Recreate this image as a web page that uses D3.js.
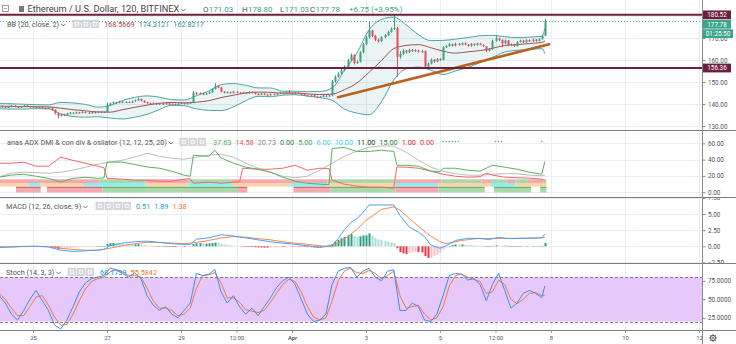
<!DOCTYPE html>
<html>
<head>
<meta charset="utf-8">
<title>Ethereum / U.S. Dollar, 120, BITFINEX</title>
<script src="https://cdn.jsdelivr.net/npm/d3@7/dist/d3.min.js"></script>
<style>
  html, body { margin: 0; padding: 0; background: #ffffff; }
  svg { display: block; font-family: Roboto, "Liberation Sans", Arial, sans-serif; }
</style>
</head>
<body>
<svg id="chart" width="736" height="344"></svg>
<script>
// ---------------- data: ETH/USD, 2-hour bars, Bitfinex ----------------
const candleStart = Date.UTC(2019, 2, 24, 2);   // open time of the first bar
const barHours = 2;
const firstOpen = 138.3;                          // later opens = previous close

const closes = [
  138.6,138.9,138.4,138.7,139.2,138.8,138.5,138.9,139.3,139.0,
  138.6,138.8,138.4,138.7,138.2,137.9,138.3,137.4,135.8,134.6,
  135.2,134.9,135.6,136.0,135.7,136.2,135.9,136.4,136.1,135.8,
  136.3,136.0,136.5,136.2,136.4,139.6,140.3,140.8,140.5,141.0,
  140.6,140.9,140.7,141.2,141.6,142.3,141.5,140.8,140.4,140.1,
  140.4,139.8,140.2,139.9,140.3,139.7,140.0,139.6,140.1,140.4,
  140.0,140.3,140.6,145.2,144.6,145.0,144.3,144.8,145.3,146.8,
  148.1,147.5,145.6,145.2,145.4,145.0,145.6,145.2,144.8,145.3,
  144.9,145.5,145.1,144.6,144.2,144.7,144.3,144.0,144.5,144.2,
  144.8,145.2,144.7,145.4,145.0,144.6,145.1,144.8,144.3,144.0,
  143.6,143.9,143.3,143.0,143.4,143.8,143.5,143.9,150.2,152.4,
  153.8,155.3,157.0,159.8,162.3,158.7,159.2,163.5,167.2,170.3,
  173.4,171.0,169.2,168.5,170.4,171.3,172.8,174.2,174.6,161.4,
  162.8,164.2,163.5,164.6,164.0,164.4,163.8,164.1,157.0,158.4,
  160.2,159.3,160.5,160.0,165.8,166.4,167.2,166.5,167.4,166.9,
  167.6,167.0,166.4,167.3,166.8,167.5,166.9,166.3,164.2,164.9,
  168.7,169.8,169.1,167.5,168.9,166.6,167.1,166.3,168.2,168.8,
  168.1,169.0,168.5,169.3,168.7,169.5,171.03,177.78
];
const highs = [
  139.0,139.3,139.1,139.0,139.6,139.4,139.0,139.2,139.7,139.5,
  139.2,139.1,139.0,139.0,138.9,138.4,138.6,138.5,137.6,136.0,
  135.6,135.5,135.9,136.4,136.2,136.5,136.4,136.7,136.6,136.3,
  136.6,136.5,136.8,136.7,136.8,140.5,140.7,141.2,141.0,141.4,
  141.2,141.2,141.1,141.5,142.0,142.9,142.5,141.7,141.0,140.6,
  140.7,140.6,140.5,140.4,140.6,140.5,140.3,140.2,140.4,140.7,
  140.6,140.6,141.0,146.0,145.5,145.4,145.2,145.1,145.7,147.2,
  149.5,148.4,147.7,145.9,145.8,145.6,145.9,145.8,145.4,145.6,
  145.5,145.8,145.7,145.3,144.8,145.0,144.9,144.5,144.8,144.7,
  145.1,145.5,145.4,145.8,146.4,145.2,145.4,145.3,145.0,144.5,
  144.2,144.2,144.1,143.5,143.7,144.1,144.0,144.2,151.0,153.0,
  154.4,156.0,157.6,160.5,163.0,162.6,159.8,164.0,167.8,171.0,
  177.4,173.8,171.4,169.8,170.9,171.8,173.3,174.8,180.52,175.0,
  164.0,164.9,164.6,165.1,165.0,164.9,164.7,164.5,164.3,158.9,
  160.7,160.5,160.9,160.8,166.4,166.9,167.7,167.5,167.9,167.7,
  168.0,167.9,167.2,167.7,167.6,167.9,167.8,167.1,165.8,165.3,
  169.3,171.4,170.2,169.4,169.3,169.1,167.5,167.3,168.6,169.2,
  169.0,169.4,169.3,169.7,169.5,169.9,171.4,178.80
];
const lows = [
  138.1,138.4,138.1,138.2,138.5,138.5,138.1,138.3,138.7,138.7,
  138.3,138.4,138.0,138.2,137.9,137.5,137.7,137.0,135.3,133.5,
  134.3,134.5,134.7,135.3,135.4,135.5,135.6,135.7,135.8,135.5,
  135.6,135.7,135.8,135.9,136.0,136.2,139.3,140.0,140.1,140.3,
  140.3,140.4,140.4,140.5,141.0,141.4,141.2,140.5,140.1,139.8,
  139.9,139.5,139.6,139.6,139.7,139.4,139.5,139.3,139.4,139.9,
  139.7,139.8,140.1,140.4,144.2,144.3,144.0,144.1,144.6,145.1,
  146.6,147.1,145.3,144.8,144.9,144.7,144.8,144.9,144.5,144.6,
  144.6,144.7,144.8,144.3,143.9,144.0,144.0,143.7,143.8,143.9,
  144.0,144.6,144.4,144.5,144.7,144.3,144.4,144.5,144.0,143.7,
  143.3,143.4,143.0,142.6,142.8,143.2,143.2,143.3,143.7,149.8,
  152.0,153.4,154.9,156.6,159.4,158.0,158.2,158.9,163.0,166.8,
  169.8,170.4,168.6,167.9,168.2,169.9,170.9,172.4,173.6,152.4,
  160.6,162.2,162.9,163.1,163.6,163.7,163.4,163.3,156.2,156.5,
  158.0,158.8,159.0,159.6,159.8,165.4,166.0,166.1,166.2,166.5,
  166.6,166.7,166.0,166.1,166.4,166.5,166.6,165.9,163.6,163.9,
  164.6,168.3,168.6,165.8,167.2,166.2,166.3,165.9,166.1,167.9,
  167.7,167.8,168.2,168.2,168.3,168.4,169.3,171.03
];

// Bollinger Bands (20, close, 2), read at these bar indices
const bbIdx = [0,4,8,12,16,20,24,28,32,36,40,44,48,52,56,60,64,68,72,76,80,84,88,92,96,100,
  104,108,112,116,120,124,128,132,136,140,144,148,152,156,160,164,168,172,176,177];
const bbUpper = [140.2,140.1,139.9,139.7,139.6,140.7,140.5,139.8,138.6,139.3,141.6,143.0,143.7,143.1,
  142.0,141.8,143.8,145.9,148.8,149.3,148.5,147.3,147.3,145.8,145.8,145.6,145.7,147.3,155.3,163.1,
  173.7,178.4,179.5,176.0,171.5,168.8,168.9,169.5,170.2,171.0,171.2,170.6,170.2,170.4,170.8,174.3121];
const bbBasis = [139.0,138.9,138.8,138.8,138.7,138.1,137.4,136.9,136.4,136.3,137.4,138.5,139.5,140.3,
  140.7,140.5,140.8,141.5,142.9,144.0,145.0,145.4,145.3,144.9,145.0,144.6,144.3,144.5,146.5,149.5,
  154.4,159.7,165.2,166.6,167.0,165.6,164.0,163.1,163.7,164.3,165.3,166.6,167.0,167.5,168.0,168.5669];
const bbLower = [137.8,137.7,137.7,137.9,137.8,135.5,134.3,134.0,134.2,133.6,133.2,134.0,135.3,137.5,
  139.4,139.2,137.8,137.1,137.0,138.7,141.5,143.5,143.3,144.0,144.2,143.6,142.9,141.7,137.7,135.9,
  135.1,141.0,150.9,156.0,156.8,155.4,153.4,155.0,156.6,158.8,161.2,163.6,164.4,164.7,165.2,162.8217];

// horizontal levels and trend line drawn on the price pane
const levels = [180.52, 156.36];
const lastClose = 177.78;
const barCountdown = "01:25:50";
const trendLine = [{t: "2019-04-02T05:50:00Z", p: 143.05}, {t: "2019-04-07T22:50:00Z", p: 167.14}];

// ADX / DMI pane: [bar index, value]
const diPlus = [[0,18.4],[4,21],[8,22],[12,19.6],[16,17],[20,12.6],[24,17],[28,18.4],[32,17],[34,17.5],
  [35,37],[40,36.8],[44,34],[48,31],[52,29.4],[56,25.8],[60,20.9],[62,19.5],[63,45.4],[68,44],[70,51.5],
  [72,42],[76,35.6],[80,30.7],[84,28.2],[88,24.5],[92,18.4],[96,13.5],[100,11],[104,9.8],[107,9.5],
  [108,53.6],[112,55],[116,50],[120,50],[124,51.5],[128,50],[129,33],[132,33],[136,31.9],[140,25.8],
  [143,25],[144,29.4],[148,29.4],[152,27],[156,25.8],[160,33],[164,30.7],[168,28.2],[172,24.5],
  [176,22],[177,37.63]];
const diMinus = [[0,35.6],[4,35.6],[8,36.8],[12,31.9],[16,31.9],[20,43],[24,39],[28,35.6],[32,31.9],
  [34,30],[35,17],[40,16],[44,14.7],[48,14.7],[52,13.5],[56,13.5],[60,16],[62,16.5],[63,11],[68,12.3],
  [72,11],[76,12.3],[78,12.5],[79,29.4],[84,28.2],[88,28.2],[92,29.4],[96,33],[100,27],[104,29.4],
  [107,29],[108,14.7],[112,9.8],[116,7.4],[120,6.1],[124,6.1],[128,4.9],[129,31],[132,30.7],[136,29.4],
  [140,25.8],[144,22],[148,19.6],[152,18.4],[156,19],[158,23.3],[160,21],[164,18.4],[168,17.8],
  [172,17.2],[176,16],[177,14.58]];
const adxLine = [[0,18.8],[4,23.3],[8,24.5],[12,24],[16,23.3],[20,24.5],[24,27],[28,30.7],[32,34.4],
  [36,36.8],[40,39.3],[44,43],[48,47.9],[52,44.2],[56,41.7],[60,40.5],[64,43],[68,45.4],[72,46.6],
  [76,43],[80,35.6],[84,29.4],[88,24.5],[92,19.6],[96,17.8],[100,19.6],[104,27],[108,35.6],[112,44.2],
  [116,50.3],[120,55.2],[124,57],[128,56.4],[132,49],[136,39.3],[140,30.7],[144,25.8],[148,22.7],
  [152,20.9],[156,20.9],[160,22],[164,22.7],[168,22.7],[172,20.9],[176,20.2],[177,20.73]];
// state strips of the divergence oscillator: [first bar, state]
const stripTrend = [[0,"dn"],[33,"up"],[48,"dn"],[62,"up"],[76,"dn"],[107,"up"],[129,"dn"],[144,"up"],
  [157,"dn"],[160,"up"],[165,"dn"],[168,"up"],[172,"dn"],[177,"up"]];
const stripMomentum = [[0,"or"],[10,"cy"],[14,"or"],[28,"cy"],[48,"or"],[62,"cy"],[76,"or"],[95,"cy"],
  [107,"or"],[129,"cy"],[143,"or"],[160,"cy"],[168,"or"]];
const stripDirection = [[0,null],[6,"dn"],[14,null],[16,"dn"],[34,"up"],[78,"dn"],[81,null],[96,"dn"],
  [108,"up"],[129,"dn"],[143,"up"],[158,null],[161,"up"],[173,null],[176,"up"]];
const signalDots = [144,145,146,147,148,149,161,162,163,176];

// MACD (12, 26, close, 9): [bar index, value]
const macdLine = [[0,-0.2],[4,-0.1],[8,0],[12,0],[16,-0.1],[20,-0.6],[24,-0.8],[28,-0.7],[32,-0.6],
  [34,-0.5],[36,0.1],[40,0.5],[44,0.7],[48,0.8],[52,0.6],[56,0.4],[60,0.3],[62,0.3],[64,1.1],[68,1.3],
  [72,1.8],[76,1.6],[80,1.3],[84,1.0],[88,0.7],[92,0.5],[96,0.3],[100,0.1],[104,-0.2],[108,0.2],
  [110,1.2],[112,2.6],[114,3.6],[116,4.3],[118,5.2],[120,6.4],[124,6.4],[128,6.4],[130,4.8],[133,3.0],
  [136,2.2],[138,1.5],[140,0.2],[143,-0.3],[145,0.1],[148,0.9],[152,1.25],[156,1.2],[159,1.05],
  [162,1.4],[165,1.2],[168,1.2],[172,1.25],[176,1.3],[177,1.89]];
const macdSignal = [[0,-0.1],[4,-0.1],[8,-0.05],[12,0],[16,-0.05],[20,-0.3],[24,-0.5],[28,-0.6],
  [32,-0.6],[36,-0.3],[40,0.1],[44,0.4],[48,0.6],[52,0.6],[56,0.5],[60,0.4],[64,0.6],[68,0.9],[72,1.3],
  [76,1.5],[80,1.4],[84,1.2],[88,1.0],[92,0.7],[96,0.5],[100,0.3],[104,0.1],[108,-0.1],[112,1.1],
  [116,2.6],[119,4.0],[124,5.7],[128,6.1],[130,5.6],[134,3.9],[139,1.9],[143,0.7],[145,0.4],[150,0.9],
  [155,1.2],[160,1.2],[168,1.25],[175,1.3],[177,1.38]];
const macdHist = [
  0.05,-0.03,-0.05,0.02,0.06,0.04,0.00,-0.02,0.03,0.05,0.02,-0.03,-0.05,-0.02,-0.06,-0.08,
  -0.05,-0.12,-0.28,-0.42,-0.38,-0.36,-0.3,-0.25,-0.22,-0.18,-0.12,-0.1,-0.08,-0.06,-0.04,-0.03,0.0,0.02,
  0.02,0.35,0.48,0.52,0.5,0.46,0.42,0.38,0.33,0.3,0.3,0.34,0.26,0.18,
  0.12,0.06,0.02,-0.03,-0.06,-0.08,-0.1,-0.12,-0.12,-0.13,-0.12,-0.1,-0.1,-0.08,-0.06,
  0.35,0.45,0.48,0.42,0.42,0.44,0.5,0.58,0.55,0.4,0.3,
  0.22,0.15,0.1,0.05,0.0,-0.04,-0.08,-0.1,-0.12,-0.15,-0.18,-0.18,-0.2,-0.21,-0.2,-0.18,-0.16,-0.12,
  -0.12,-0.08,-0.06,-0.06,-0.05,-0.06,
  -0.08,-0.1,-0.14,-0.15,-0.18,-0.2,-0.2,-0.17,-0.15,-0.12,
  0.35,0.7,1.0,1.25,1.45,1.7,1.9,1.6,1.45,1.55,1.7,1.7,2.0,1.6,1.3,1.05,0.95,0.85,0.75,0.62,0.5,
  -0.3,-0.9,-1.1,-1.2,-1.0,-0.9,-0.85,-0.9,-0.95,-1.5,-1.8,-1.7,-1.5,-1.3,-1.0,-0.5,-0.2,0.05,
  0.2,0.3,0.28,0.3,0.26,0.2,0.18,0.12,0.1,0.05,0.02,-0.05,-0.08,0.06,
  0.15,0.12,0.05,0.1,-0.05,-0.06,-0.08,0.02,0.05,0.02,0.04,0.0,0.04,0.02,0.03,0.08,
  0.51
];

// Stochastic (14, 3, 3): [bar index, value]
const stochK = [[0,55],[2,45],[4,30],[6,22],[8,35],[10,50],[12,62],[14,48],[16,35],[18,15],
  [20,10],[22,22],[24,40],[26,60],[28,72],[30,78],[32,80],[34,82],[36,92],[38,90],
  [40,85],[42,80],[44,86],[46,78],[48,55],[50,42],[52,35],[54,40],[56,30],[58,25],
  [60,35],[62,45],[64,85],[66,82],[68,84],[70,90],[72,60],[74,45],[76,55],[78,40],
  [80,30],[82,38],[84,28],[86,40],[88,52],[90,66],[92,75],[94,80],[96,70],[98,50],
  [100,30],[102,20],[104,22],[106,30],[108,70],[110,88],[112,92],[114,93],[116,80],[118,88],
  [120,92],[122,80],[124,75],[126,88],[128,90],[130,35],[132,35],[134,45],[136,40],[138,22],
  [140,20],[142,30],[144,55],[146,82],[148,85],[150,84],[152,76],[154,78],[156,70],[158,48],
  [160,70],[162,85],[164,62],[166,38],[168,45],[170,58],[172,62],[174,58],[176,52],[177,68.1739]];
const stochD = [[0,58],[2,50],[4,38],[6,28],[8,28],[10,40],[12,53],[14,55],[16,42],[18,26],
  [20,15],[22,16],[24,30],[26,48],[28,64],[30,74],[32,78],[34,80],[36,87],[38,90],
  [40,87],[42,82],[44,82],[46,80],[48,65],[50,48],[52,38],[54,38],[56,35],[58,28],
  [60,30],[62,38],[64,65],[66,82],[68,83],[70,86],[72,72],[74,52],[76,52],[78,46],
  [80,36],[82,34],[84,32],[86,35],[88,46],[90,58],[92,70],[94,77],[96,74],[98,60],
  [100,40],[102,26],[104,22],[106,25],[108,48],[110,75],[112,88],[114,92],[116,86],[118,85],
  [120,89],[122,85],[124,78],[126,82],[128,88],[130,55],[132,38],[134,40],[136,42],[138,30],
  [140,22],[142,25],[144,40],[146,68],[148,82],[150,84],[152,80],[154,77],[156,74],[158,58],
  [160,60],[162,76],[164,70],[166,50],[168,44],[170,50],[172,58],[174,59],[176,55],[177,55.5842]];

// time axis labels
const xTickDates = ["2019-03-25","2019-03-27","2019-03-29","2019-03-30T12:00:00Z","2019-04-01",
  "2019-04-03","2019-04-05","2019-04-06T12:00:00Z","2019-04-08","2019-04-10","2019-04-12"];
const xTickLabels = ["25","27","29","12:00","Apr","3","5","12:00","8","10","12"];
const priceGrid = [130,140,150,160,170,180];
const priceTicks = [130,140,150,160,170];   // 180.00 sits under the level tag
const adxTicks = [0,20,40,60];
const macdTicks = [-2.5,0,2.5,5,7.5];
const stochTicks = [25,50,75];

// ---------------- layout ----------------
const svg = d3.select("#chart");
const PR = 702;                 // right edge of the plotting area / price scale line
const DAY = 864e5;
const anchor = Date.UTC(2019, 2, 25);
const x = d3.scaleUtc()
  .domain([new Date(anchor - 33 / 37 * DAY), new Date(anchor + 669 / 37 * DAY)])
  .range([0, PR]);
const barTime = i => new Date(candleStart + i * barHours * 3600e3);
const bx = i => x(barTime(i));

const yPrice = d3.scaleLinear().domain([130, 180]).range([126, 16]);
const yAdx = d3.scaleLinear().domain([0, 60]).range([192.2, 143.3]);
const yMacd = d3.scaleLinear().domain([0, 5]).range([246.3, 214]);
const yStoch = d3.scaleLinear().domain([25, 75]).range([317.8, 280.8]);

// font sizes fitted to the widths of the pane titles
function fitSize(text, target, base = 10) {
  const t = svg.append("text").attr("font-size", base).text(text);
  const w = t.node().getComputedTextLength();
  t.remove();
  return base * target / w;
}
const headerSize = fitSize("Ethereum / U.S. Dollar, 120, BITFINEX", 152);
const ohlcSize = fitSize("O171.03", 30);
const legendSize = fitSize("anas ADX DMI & con div & osilator (12, 12, 25, 20)", 160);
const axisSize = fitSize("160.00", 19.5);
const timeSize = fitSize("12:00", 14.5);

const defs = svg.append("defs");
function clipFor(id, y0, y1, w = PR) {
  defs.append("clipPath").attr("id", id).append("rect")
    .attr("x", 0).attr("y", y0).attr("width", w).attr("height", y1 - y0);
  return `url(#${id})`;
}
const clipPrice = clipFor("cp", 0, 130.5);
const clipAdx = clipFor("ca", 131, 197);
const clipMacd = clipFor("cm", 197.5, 263);
const clipStoch = clipFor("cs", 263.5, 330);
const clipMacdAxis = clipFor("cma", 198, 263, 736);

svg.append("rect").attr("width", 736).attr("height", 344).attr("fill", "#ffffff");

// ---------------- grid ----------------
const grid = svg.append("g").attr("stroke", "#ebeff5").attr("stroke-width", 1);
xTickDates.forEach(d => {
  const xx = Math.round(x(new Date(d))) + 0.5;
  grid.append("line").attr("x1", xx).attr("x2", xx).attr("y1", 0).attr("y2", 330);
});
[[priceGrid, yPrice, 0, 130], [adxTicks, yAdx, 131, 197], [macdTicks, yMacd, 197, 263], [stochTicks, yStoch, 263, 330]]
  .forEach(([ticks, sc, a, b]) => ticks.forEach(v => {
    const yy = Math.round(sc(v)) + 0.5;
    if (yy > a && yy < b) grid.append("line").attr("x1", 0).attr("x2", PR).attr("y1", yy).attr("y2", yy);
  }));

// ---------------- price pane ----------------
const gP = svg.append("g").attr("clip-path", clipPrice);
const bb = bbIdx.map((k, j) => ({ i: k, u: bbUpper[j], m: bbBasis[j], l: bbLower[j] }));
gP.append("path").datum(bb)
  .attr("d", d3.area().curve(d3.curveMonotoneX).x(d => bx(d.i)).y0(d => yPrice(d.l)).y1(d => yPrice(d.u)))
  .attr("fill", "rgba(19,132,132,0.09)");
[["u", "#4fa3a3"], ["l", "#4fa3a3"], ["m", "#a0504f"]].forEach(([k, c]) => {
  gP.append("path").datum(bb)
    .attr("d", d3.line().curve(d3.curveMonotoneX).x(d => bx(d.i)).y(d => yPrice(d[k])))
    .attr("fill", "none").attr("stroke", c).attr("stroke-width", 1);
});

const bars = closes.map((c, i) => ({ i, o: i ? closes[i - 1] : firstOpen, h: highs[i], l: lows[i], c }));
const upCol = "#3f9f80", dnCol = "#e84a5a";
const cg = gP.append("g");
cg.selectAll("line.wick").data(bars).join("line")
  .attr("x1", d => Math.round(bx(d.i)) + 0.5).attr("x2", d => Math.round(bx(d.i)) + 0.5)
  .attr("y1", d => yPrice(d.h)).attr("y2", d => yPrice(d.l))
  .attr("stroke", d => d.c >= d.o ? upCol : dnCol).attr("stroke-width", 1);
cg.selectAll("rect.body").data(bars).join("rect")
  .attr("x", d => Math.round(bx(d.i)) - 0.5).attr("width", 2)
  .attr("y", d => yPrice(Math.max(d.o, d.c)))
  .attr("height", d => Math.max(1, Math.abs(yPrice(d.o) - yPrice(d.c))))
  .attr("fill", d => d.c >= d.o ? upCol : dnCol);

// trend line
gP.append("line")
  .attr("x1", x(new Date(trendLine[0].t))).attr("y1", yPrice(trendLine[0].p))
  .attr("x2", x(new Date(trendLine[1].t))).attr("y2", yPrice(trendLine[1].p))
  .attr("stroke", "#b9621f").attr("stroke-width", 2.6).attr("stroke-linecap", "round");

// horizontal levels and last price
levels.forEach(v => svg.append("line").attr("x1", 0).attr("x2", PR)
  .attr("y1", yPrice(v)).attr("y2", yPrice(v))
  .attr("stroke", "#6c1f3f").attr("stroke-width", 2));
svg.append("line").attr("x1", 0).attr("x2", PR)
  .attr("y1", Math.round(yPrice(lastClose)) + 0.5).attr("y2", Math.round(yPrice(lastClose)) + 0.5)
  .attr("stroke", "#4fb3a0").attr("stroke-width", 1).attr("stroke-dasharray", "1,2");

// ---------------- ADX pane ----------------
const gA = svg.append("g").attr("clip-path", clipAdx);
const stripCol = { dn: "#f6a9b0", up: "#a9d9a9", cy: "#8eeff0", or: "#fcd4a8" };
function drawStrip(runs, y0, y1) {
  runs.forEach((r, j) => {
    if (!r[1]) return;
    const s = r[0], e = j + 1 < runs.length ? runs[j + 1][0] - 1 : closes.length - 1;
    const x0 = bx(s) - 1.54, x1 = bx(e) + 1.54;
    gA.append("rect").attr("x", x0).attr("y", y0).attr("width", x1 - x0).attr("height", y1 - y0)
      .attr("fill", stripCol[r[1]]);
  });
}
drawStrip(stripTrend, 179.3, 183);
drawStrip(stripMomentum, 183, 186.6);
drawStrip(stripDirection, 188, 192.6);
stripDirection.forEach((r, j) => {
  if (!r[1]) return;
  const e = j + 1 < stripDirection.length ? stripDirection[j + 1][0] - 1 : closes.length - 1;
  gA.append("line").attr("x1", bx(r[0]) - 1.54).attr("x2", bx(e) + 1.54).attr("y1", 187.3).attr("y2", 187.3)
    .attr("stroke", r[1] === "up" ? "#4c9a52" : "#c44a52").attr("stroke-width", 1);
});
const adxL = d3.line().x(d => bx(d[0])).y(d => yAdx(d[1]));
[[adxLine, "#bdbdbd"], [diMinus, "#ee6a6a"], [diPlus, "#5cb25c"]].forEach(([s, c]) =>
  gA.append("path").attr("d", adxL(s)).attr("fill", "none").attr("stroke", c).attr("stroke-width", 1));
gA.selectAll("circle.sig").data(signalDots).join("circle")
  .attr("cx", d => bx(d)).attr("cy", 141.5).attr("r", 0.8).attr("fill", "#5cb25c");

// ---------------- MACD pane ----------------
const gM = svg.append("g").attr("clip-path", clipMacd);
gM.selectAll("rect.h").data(macdHist.map((v, i) => ({ i, v, p: i ? macdHist[i - 1] : 0 }))).join("rect")
  .attr("x", d => Math.round(bx(d.i)) - 0.5).attr("width", 2)
  .attr("y", d => Math.min(yMacd(0), yMacd(d.v)))
  .attr("height", d => Math.max(0.5, Math.abs(yMacd(d.v) - yMacd(0))))
  .attr("fill", d => d.v >= 0 ? (d.v >= d.p ? "#2f9c84" : "#aadcd3") : (d.v <= d.p ? "#e53945" : "#f8c0c8"));
const macdL = d3.line().x(d => bx(d[0])).y(d => yMacd(d[1]));
gM.append("path").attr("d", macdL(macdSignal)).attr("fill", "none").attr("stroke", "#f5894a").attr("stroke-width", 1);
gM.append("path").attr("d", macdL(macdLine)).attr("fill", "none").attr("stroke", "#4aa0f2").attr("stroke-width", 1);

// ---------------- Stochastic pane ----------------
const gS = svg.append("g").attr("clip-path", clipStoch);
gS.append("rect").attr("x", 0).attr("width", PR).attr("y", yStoch(80)).attr("height", yStoch(20) - yStoch(80))
  .attr("fill", "#e6c8fa");
[80, 20].forEach(v => gS.append("line").attr("x1", 0).attr("x2", PR)
  .attr("y1", Math.round(yStoch(v)) + 0.5).attr("y2", Math.round(yStoch(v)) + 0.5)
  .attr("stroke", "#7e7f88").attr("stroke-dasharray", "3,2"));
const stL = d3.line().x(d => bx(d[0])).y(d => yStoch(d[1]));
gS.append("path").attr("d", stL(stochD)).attr("fill", "none").attr("stroke", "#f3773d").attr("stroke-width", 1);
gS.append("path").attr("d", stL(stochK)).attr("fill", "none").attr("stroke", "#3b8fee").attr("stroke-width", 1);

// ---------------- pane separators & price scale line ----------------
[130.5, 197.5, 263.5, 330.5].forEach(yy => svg.append("line").attr("x1", 0).attr("x2", 736)
  .attr("y1", yy).attr("y2", yy).attr("stroke", "#7c7c7c").attr("stroke-width", 1));
svg.append("line").attr("x1", PR + 0.5).attr("x2", PR + 0.5).attr("y1", 0).attr("y2", 344)
  .attr("stroke", "#8a8a8a").attr("stroke-width", 1);

// ---------------- right scales ----------------
function rightAxis(sc, ticks, fmt, clip) {
  const g = svg.append("g").attr("transform", `translate(${PR + 0.5},0)`)
    .call(d3.axisRight(sc).tickValues(ticks).tickFormat(fmt).tickSize(3).tickPadding(2.5));
  if (clip) g.attr("clip-path", clip);
  g.select(".domain").remove();
  g.selectAll("line").attr("stroke", "#8a8a8a");
  g.selectAll("text").attr("fill", "#4f535c").attr("font-size", axisSize).attr("font-family", "Roboto, sans-serif");
  return g;
}
rightAxis(yPrice, priceTicks, d3.format(".2f"));
rightAxis(yAdx, adxTicks, d3.format(".2f"));
rightAxis(yMacd, macdTicks, d3.format(".2f"), clipMacdAxis);
rightAxis(yStoch, stochTicks, d3.format(".4f"));

// price scale tags; a tag that would overlap the one above is pushed down
const tagH = 8.8;
let tagBottom = -Infinity;
function tag(yc, text, fill, w = 28) {
  const c = Math.max(yc, tagBottom + 0.6 + tagH / 2);
  tagBottom = c + tagH / 2;
  svg.append("rect").attr("x", PR + 1).attr("y", c - tagH / 2).attr("width", w).attr("height", tagH).attr("fill", fill);
  svg.append("text").attr("x", PR + 1 + w / 2).attr("y", c + axisSize * 0.36).attr("text-anchor", "middle")
    .attr("font-size", axisSize).attr("fill", "#ffffff").text(text);
}
tag(yPrice(levels[0]), d3.format(".2f")(levels[0]), "#6c1f3f");
tag(yPrice(lastClose), d3.format(".2f")(lastClose), "#3ba58b");
tag(yPrice(lastClose), barCountdown, "#3ba58b", 30);
tagBottom = -Infinity;
tag(yPrice(levels[1]), d3.format(".2f")(levels[1]), "#6c1f3f");

// ---------------- time axis ----------------
const gx = svg.append("g").attr("transform", "translate(0,330.5)")
  .call(d3.axisBottom(x).tickValues(xTickDates.map(d => new Date(d)))
    .tickFormat((d, i) => xTickLabels[i]).tickSize(2.5).tickPadding(3));
gx.select(".domain").remove();
gx.selectAll("line").attr("stroke", "#9a9a9a");
gx.selectAll("text").attr("fill", "#4f535c").attr("font-size", timeSize).attr("font-family", "Roboto, sans-serif")
  .attr("font-weight", (d, i) => xTickLabels[i] === "Apr" ? 600 : 400);

// settings gear
const gear = svg.append("g").attr("transform", "translate(713,338)").attr("stroke", "#555").attr("fill", "none");
gear.append("circle").attr("r", 2.6).attr("stroke-width", 1);
gear.append("circle").attr("r", 1).attr("stroke-width", 0.8);
d3.range(8).forEach(k => {
  const a = k * Math.PI / 4;
  gear.append("line").attr("x1", Math.cos(a) * 2.6).attr("y1", Math.sin(a) * 2.6)
    .attr("x2", Math.cos(a) * 3.8).attr("y2", Math.sin(a) * 3.8).attr("stroke-width", 1.1);
});

// ---------------- legends ----------------
function chevron(xx, yy) {
  svg.append("path").attr("d", `M${xx},${yy - 3.2} l2.2,2.2 l2.2,-2.2`).attr("fill", "none")
    .attr("stroke", "#555").attr("stroke-width", 0.8);
}
function icons(xx, yy, n) {
  for (let k = 0; k < n; k++) {
    svg.append("rect").attr("x", xx + k * 9).attr("y", yy - 6.8).attr("width", 7.5).attr("height", 7.5)
      .attr("fill", "#d9dbe0").attr("stroke", "#c4c6cc").attr("stroke-width", 0.6);
    svg.append("rect").attr("x", xx + k * 9 + 2.2).attr("y", yy - 4.6).attr("width", 3.1).attr("height", 3.1)
      .attr("fill", "none").attr("stroke", "#ffffff").attr("stroke-width", 0.7);
  }
  return xx + n * 9;
}
function legend(y, x0, items, size) {
  let xx = x0;
  items.forEach(it => {
    if (it.at !== undefined) xx = it.at;
    if (it.chev) { chevron(xx + 1, y); xx += 8; return; }
    if (it.icons) { xx = icons(xx, y, it.icons) + (it.gap ?? 3); return; }
    const t = svg.append("text").attr("x", xx).attr("y", y).attr("font-size", size)
      .attr("fill", it.color || "#555").text(it.text);
    xx += t.node().getComputedTextLength() + (it.gap ?? 4);
  });
  return xx;
}

// symbol header
svg.append("rect").attr("x", 2.5).attr("y", 5.5).attr("width", 6).attr("height", 6)
  .attr("fill", "none").attr("stroke", "#888").attr("stroke-width", 0.8);
svg.append("line").attr("x1", 4).attr("x2", 7).attr("y1", 8.5).attr("y2", 8.5).attr("stroke", "#888").attr("stroke-width", 0.8);
svg.append("rect").attr("x", 19).attr("y", 6).attr("width", 5).attr("height", 6).attr("fill", "#777");
legend(12, 27.5, [{ text: "Ethereum / U.S. Dollar, 120, BITFINEX", color: "#444", gap: 1 }, { chev: true }], headerSize);
const up = "#3aa37f";
const ohlc = [["O", "171.03", 203], ["H", "178.80", 242], ["L", "171.03", 280], ["C", "177.78", 310]];
ohlc.forEach(([k, v, xx]) => legend(12, xx, [{ text: k, color: "#555", gap: 0.3 }, { text: v, color: up }], ohlcSize));
legend(12, 349, [{ text: "+6.75 (+3.95%)", color: up }], ohlcSize);

legend(27, 7, [
  { text: "BB (20, close, 2)", color: "#555", gap: 1 }, { chev: true }, { at: 73, icons: 3 },
  { at: 104, text: "168.5669", color: "#b8404a" }, { text: "174.3121", color: "#2e8f8f" }, { text: "162.8217", color: "#2e8f8f" }
], legendSize);
legend(145, 7, [
  { text: "anas ADX DMI & con div & osilator (12, 12, 25, 20)", color: "#555", gap: 1 }, { chev: true }, { at: 180, icons: 3 },
  { at: 213, text: "37.63", color: "#4caf50" }, { text: "14.58", color: "#f05454" }, { text: "20.73", color: "#8f8f8f" },
  { text: "0.00", color: "#2e7d32" }, { text: "5.00", color: "#43a047" }, { text: "6.00", color: "#3fd3e0" },
  { text: "10.00", color: "#3fd3e0" }, { text: "11.00", color: "#1b4d20" }, { text: "15.00", color: "#2e7d32" },
  { text: "1.00", color: "#c62828" }, { text: "0.00", color: "#e53935" }
], legendSize);
legend(209, 6, [
  { text: "MACD (12, 26, close, 9)", color: "#555", gap: 1 }, { chev: true }, { at: 96, icons: 4 },
  { at: 136, text: "0.51", color: "#26a69a" }, { text: "1.89", color: "#2196f3" }, { text: "1.38", color: "#f57c2a" }
], legendSize);
legend(275, 6, [
  { text: "Stoch (14, 3, 3)", color: "#555", gap: 1 }, { chev: true }, { at: 68, icons: 3 },
  { at: 100, text: "68.1739", color: "#2196f3" }, { text: "55.5842", color: "#f57c2a" }
], legendSize);
</script>
</body>
</html>
